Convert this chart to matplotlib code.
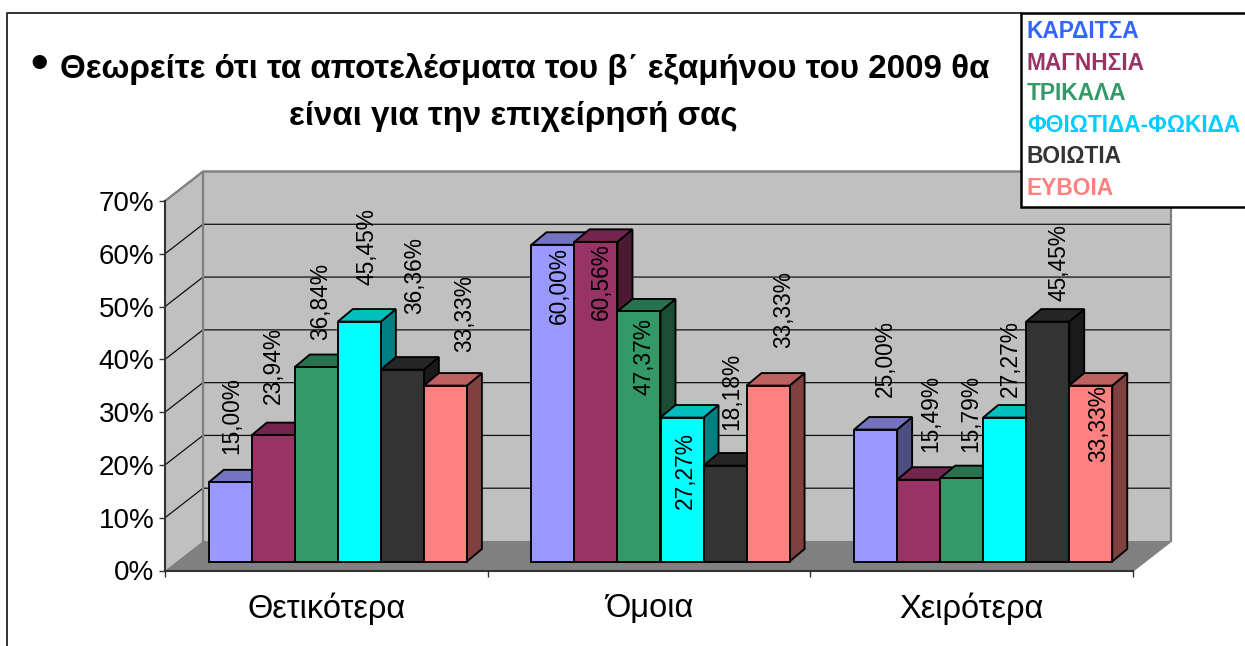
import matplotlib
matplotlib.use("Agg")
import matplotlib.pyplot as plt
from matplotlib.lines import Line2D
from matplotlib.patches import Rectangle

plt.rcParams['font.family'] = ['Liberation Sans', 'DejaVu Sans']

# ---- data ----
categories = ["Θετικότερα", "Όμοια", "Χειρότερα"]
series_names = ["ΚΑΡΔΙΤΣΑ", "ΜΑΓΝΗΣΙΑ", "ΤΡΙΚΑΛΑ", "ΦΘΙΩΤΙΔΑ-ΦΩΚΙΔΑ", "ΒΟΙΩΤΙΑ", "ΕΥΒΟΙΑ"]
karditsa = [15.00, 60.00, 25.00]
magnisia = [23.94, 60.56, 15.49]
trikala = [36.84, 47.37, 15.79]
fthiotida = [45.45, 27.27, 27.27]
voiotia = [36.36, 18.18, 45.45]
evvoia = [33.33, 33.33, 33.33]
series_values = [karditsa, magnisia, trikala, fthiotida, voiotia, evvoia]
title_line1 = "Θεωρείτε ότι τα αποτελέσματα του β΄ εξαμήνου του 2009 θα"
title_line2 = "είναι για την επιχείρησή σας"
y_ticks = [0, 10, 20, 30, 40, 50, 60, 70]
y_tick_labels = ["0%", "10%", "20%", "30%", "40%", "50%", "60%", "70%"]

# ---- style ----
bar_colors = ["#9999FF", "#993366", "#339966", "#00FFFF", "#333333", "#FF8080"]
legend_colors = ["#3366FF", "#993366", "#339966", "#00CCFF", "#333333", "#FF8080"]
# label centre (px in the image) for each category / series
label_centres = [
    [(232, 416), (273, 366), (321, 301), (367, 247), (415, 276), (465, 314)],
    [(559, 286), (601, 282), (644, 357), (685, 471), (732, 391), (784, 310)],
    [(885, 359), (931, 413), (971, 413), (1010, 359), (1059, 263), (1099, 424)],
]

W, H = 1245, 646
fig = plt.figure(figsize=(W / 100, H / 100), dpi=100, facecolor="white")


def fx(x):
    return x / W


def fy(y):
    return 1 - y / H


# front plane of the chart box
L, R, B, T = 165, 1133, 570.5, 201
ax = fig.add_axes([fx(L), fy(B), (R - L) / W, (B - T) / H], facecolor="none")
ax.set_xlim(0, 3)
ax.set_ylim(0, 70)
px_x = 3 / (R - L)
px_y = 70 / (B - T)

BACK_X, BACK_Y = 38 * px_x, 29.5 * px_y      # depth of the box
PLANE_X, PLANE_Y = 11.5 * px_x, 9 * px_y     # front of bars vs. front of box
DEP_X, DEP_Y = 15 * px_x, 12.5 * px_y        # bar depth


def shade(c, f):
    rgb = matplotlib.colors.to_rgb(c)
    return tuple(v * f for v in rgb)


# floor and walls
WALL = "#C0C0C0"
GREY = "#808080"
ymax = 70
ax.fill([0, BACK_X, BACK_X, 0], [0, BACK_Y, ymax + BACK_Y, ymax], facecolor=WALL, edgecolor="none", clip_on=False, zorder=1)
ax.fill([BACK_X, 3 + BACK_X, 3 + BACK_X, BACK_X], [BACK_Y, BACK_Y, ymax + BACK_Y, ymax + BACK_Y], facecolor=WALL, edgecolor="none", clip_on=False, zorder=1)
ax.fill([0, 3, 3 + BACK_X, BACK_X], [0, 0, BACK_Y, BACK_Y], facecolor=GREY, edgecolor="none", clip_on=False, zorder=1)
for v in y_ticks[1:]:
    ax.plot([0, BACK_X, 3 + BACK_X], [v, v + BACK_Y, v + BACK_Y], color="#111111", lw=0.9, clip_on=False, zorder=2,
            solid_joinstyle="miter")
ax.plot([0, BACK_X, 3 + BACK_X, 3 + BACK_X, 3], [ymax, ymax + BACK_Y, ymax + BACK_Y, BACK_Y, 0], color=GREY, lw=1.6,
        clip_on=False, zorder=2)
ax.plot([BACK_X, BACK_X], [BACK_Y, ymax + BACK_Y], color=GREY, lw=1.6, clip_on=False, zorder=2)

# bars
bar_w = 0.8 / len(series_values)
z = 3
for ci in range(len(categories)):
    for si, vals in enumerate(series_values):
        val = vals[ci]
        x0 = ci + 0.1 + si * bar_w + PLANE_X
        y0 = PLANE_Y
        col = bar_colors[si]
        x1 = x0 + bar_w
        y1 = y0 + val
        ax.fill([x1, x1 + DEP_X, x1 + DEP_X, x1], [y0, y0 + DEP_Y, y1 + DEP_Y, y1], facecolor=shade(col, 0.5),
                edgecolor="black", lw=1.35, clip_on=False, zorder=z, joinstyle="miter")
        ax.fill([x0, x1, x1 + DEP_X, x0 + DEP_X], [y1, y1, y1 + DEP_Y, y1 + DEP_Y], facecolor=shade(col, 0.75),
                edgecolor="black", lw=1.35, clip_on=False, zorder=z, joinstyle="miter")
        ax.bar(x0, val, width=bar_w, bottom=y0, align="edge", color=col, edgecolor="black", lw=1.35, clip_on=False,
               zorder=z + 0.5)
        z += 1

# axes
for s in ("top", "right"):
    ax.spines[s].set_visible(False)
for s in ("left", "bottom"):
    ax.spines[s].set_color("#333333")
    ax.spines[s].set_linewidth(1.5)
    ax.spines[s].set_zorder(z)
ax.set_yticks(y_ticks)
ax.set_yticklabels(y_tick_labels, fontsize=20)
ax.set_xticks(range(len(categories) + 1))
ax.set_xticklabels([])
ax.set_xticks([i + 0.5 for i in range(len(categories))], minor=True)
ax.set_xticklabels(categories, minor=True, fontsize=23.5)
ax.tick_params(axis="x", which="minor", length=0, pad=16)
ax.tick_params(axis="both", which="major", length=4.5, width=1, color="#333333", pad=3)
ax.set_axisbelow(False)

# data labels
for ci in range(len(categories)):
    for si, vals in enumerate(series_values):
        text = f"{vals[ci]:.2f}%".replace(".", ",")
        cx, cy = label_centres[ci][si]
        fig.text(fx(cx), fy(cy), text, rotation=90, fontsize=16.4, ha="center", va="center", color="black", zorder=50)

# outer frame
fig.add_artist(Line2D([fx(7), fx(7), fx(1021)], [0, fy(13), fy(13)], color="#333333", lw=1.4))

# title
fig.text(fx(39), fy(65), "•", fontsize=36, fontweight="bold", ha="center", va="center", color="black")
fig.text(fx(525), fy(69), title_line1, fontsize=23.9, fontweight="bold", ha="center", va="center", color="black")
fig.text(fx(513), fy(117), title_line2, fontsize=23.9, fontweight="bold", ha="center", va="center", color="black")

# legend box
fig.add_artist(Rectangle((fx(1020.5), fy(207.5)), (W + 10 - 1021) / W, 194 / H, transform=fig.transFigure,
                         facecolor="white", edgecolor="black", lw=1.8, zorder=40))
for name, colr, ly in zip(series_names, legend_colors, [31.5, 63.5, 93.5, 125.5, 156.5, 188.5]):
    fig.text(fx(1027), fy(ly), name, fontsize=16.4, fontweight="bold", color=colr, ha="left", va="center", zorder=41)

fig.savefig("out.png", dpi=100, facecolor="white")
